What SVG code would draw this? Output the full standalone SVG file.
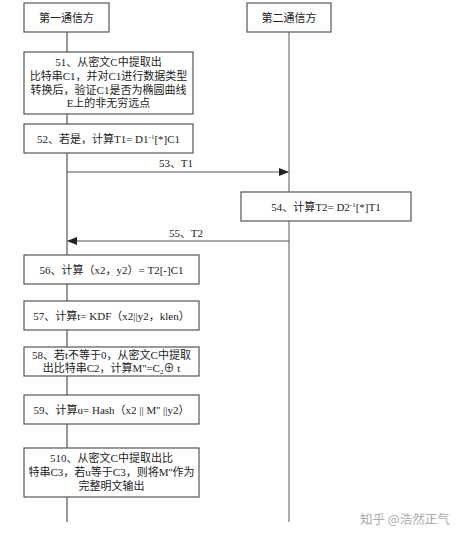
<svg xmlns="http://www.w3.org/2000/svg" width="474" height="539" viewBox="0 0 474 539">
<style>
.box{fill:#fff;stroke:#555;stroke-width:1.2}
.life{stroke:#555;stroke-width:1.2;fill:none}
.life2{stroke:#888;stroke-width:1.4;fill:none}
.msg{stroke:#555;stroke-width:1.2;fill:none}
text{font-family:"Liberation Serif","Noto Sans CJK SC",serif;font-size:11px;fill:#222;text-anchor:middle}
.wm{font-family:"Noto Sans CJK SC",sans-serif;font-size:12.5px;fill:#aaa;text-anchor:start}
</style>
<defs>
<marker id="ah" markerWidth="10" markerHeight="8" refX="9" refY="4" orient="auto" markerUnits="userSpaceOnUse">
<path d="M0,0 L10,4 L0,8 z" fill="#222"/>
</marker>
</defs>
<rect width="474" height="539" fill="#fff"/>
<g id="connectors">
<line class="life" x1="67" y1="32" x2="67" y2="522"/>
<line class="life2" x1="289" y1="32" x2="289" y2="522"/>
<line class="msg" x1="67" y1="172" x2="288" y2="172" marker-end="url(#ah)"/>
<line class="msg" x1="289" y1="241" x2="68" y2="241" marker-end="url(#ah)"/>
<text x="176" y="167">53、T1</text>
<text x="186" y="237">55、T2</text>
</g>
<g id="party1">
<rect class="box" x="24" y="3" width="85" height="29"/>
<text x="66.5" y="22">第一通信方</text>
</g>
<g id="party2">
<rect class="box" x="247" y="3" width="84" height="29"/>
<text x="289" y="22">第二通信方</text>
</g>
<g id="s51">
<rect class="box" x="24" y="52" width="169" height="62"/>
<text x="108.5" y="66">51、从密文C中提取出</text>
<text x="108.5" y="80">比特串C1，并对C1进行数据类型</text>
<text x="108.5" y="94">转换后，验证C1是否为椭圆曲线</text>
<text x="108.5" y="107">E上的非无穷远点</text>
</g>
<g id="s52">
<rect class="box" x="24" y="124" width="169" height="29"/>
<text x="108.5" y="143">52、若是，计算T1= D1<tspan dy="-4" font-size="7">-1</tspan><tspan dy="4">[*]C1</tspan></text>
</g>
<g id="s54">
<rect class="box" x="241" y="192" width="170" height="29"/>
<text x="326" y="211">54、计算T2= D2<tspan dy="-4" font-size="7">-1</tspan><tspan dy="4">[*]T1</tspan></text>
</g>
<g id="s56">
<rect class="box" x="24" y="255" width="175" height="29"/>
<text x="111.5" y="274">56、计算（x2，y2）= T2[-]C1</text>
</g>
<g id="s57">
<rect class="box" x="24" y="301" width="175" height="29"/>
<text x="111.5" y="320">57、计算t= KDF（x2||y2，klen）</text>
</g>
<g id="s58">
<rect class="box" x="24" y="347" width="175" height="29"/>
<text x="111.5" y="359">58、若t不等于0，从密文C中提取</text>
<text x="111.5" y="372">出比特串C2，计算M''=C<tspan dy="2" font-size="7">2</tspan><tspan dy="-2">⊕ t</tspan></text>
</g>
<g id="s59">
<rect class="box" x="24" y="395" width="175" height="29"/>
<text x="111.5" y="414">59、计算u= Hash（x2 || M'' ||y2）</text>
</g>
<g id="s510">
<rect class="box" x="24" y="448" width="175" height="49"/>
<text x="111.5" y="462">510、从密文C中提取出比</text>
<text x="111.5" y="476">特串C3，若u等于C3，则将M''作为</text>
<text x="111.5" y="490">完整明文输出</text>
</g>
<text class="wm" x="360" y="524">知乎 @浩然正气</text>
</svg>
